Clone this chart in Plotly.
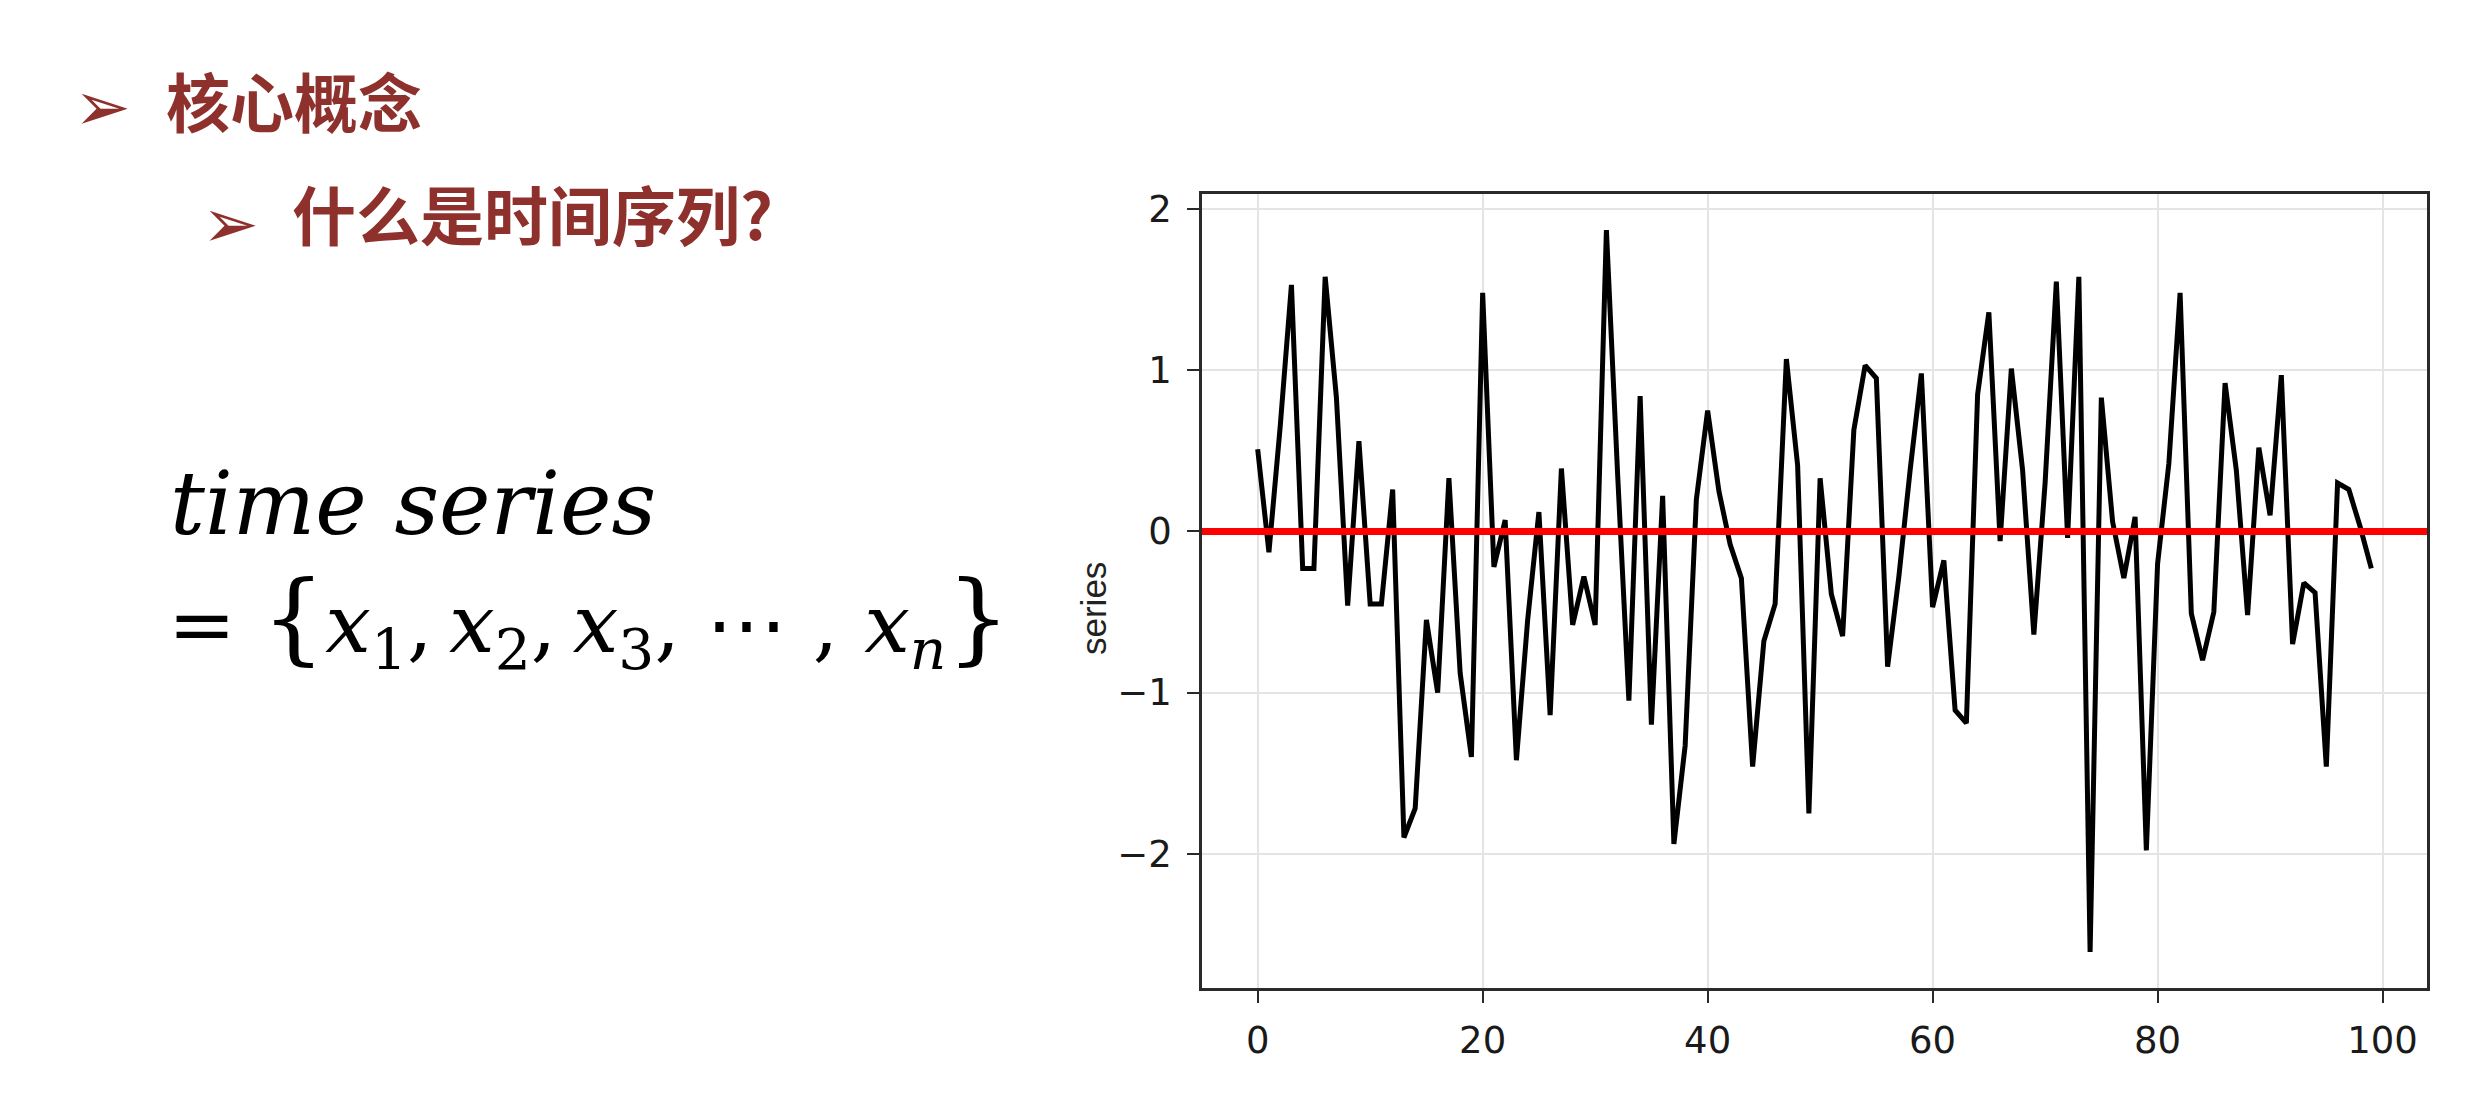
import plotly.graph_objects as go

# ---- data ----
time_index = list(range(100))
series_values = [
    0.51, -0.13, 0.65, 1.53, -0.23, -0.23, 1.58, 0.83, -0.46, 0.56,
    -0.45, -0.45, 0.26, -1.90, -1.72, -0.55, -1.00, 0.33, -0.88, -1.40,
    1.48, -0.22, 0.07, -1.42, -0.55, 0.12, -1.14, 0.39, -0.58, -0.28,
    -0.58, 1.87, 0.35, -1.05, 0.84, -1.20, 0.22, -1.94, -1.33, 0.20,
    0.75, 0.25, -0.08, -0.29, -1.46, -0.68, -0.45, 1.07, 0.41, -1.75,
    0.33, -0.39, -0.65, 0.63, 1.03, 0.95, -0.84, -0.28, 0.38, 0.98,
    -0.47, -0.18, -1.11, -1.19, 0.85, 1.36, -0.06, 1.01, 0.38, -0.64,
    0.30, 1.55, -0.04, 1.58, -2.61, 0.83, 0.06, -0.29, 0.09, -1.98,
    -0.20, 0.42, 1.48, -0.51, -0.80, -0.50, 0.92, 0.38, -0.52, 0.52,
    0.10, 0.97, -0.70, -0.32, -0.38, -1.46, 0.30, 0.26, 0.03, -0.23,
]
mean_level = 0.0
x_ticks = [0, 20, 40, 60, 80, 100]
y_ticks = [-2, -1, 0, 1, 2]
y_tick_labels = ["\u22122", "\u22121", "0", "1", "2"]
y_title = "series"
heading_1 = "核心概念"
heading_2 = "什么是时间序列?"
formula_line_1 = "time series"
brace_l = '<span style="font-size:100px">{</span>'
brace_r = '<span style="font-size:100px">}</span>'
formula_line_2 = ("= " + brace_l +
                  "<i>x</i><sub>1</sub>,\u2009<i>x</i><sub>2</sub>,\u2009<i>x</i><sub>3</sub>, "
                  "\u22ef , <i>x</i><sub><i>n</i></sub>" + brace_r)

# ---- layout geometry (pixels) ----
W, H = 2479, 1096
PL, PR, PT, PB = 1194, 2419, 186, 980
def px(x):
    return (x - PL) / (PR - PL)
def py(y):
    return (PB - y) / (PB - PT)

# matplotlib-like 5% margins
xmin, xmax = min(time_index), max(time_index)
ymin, ymax = min(series_values), max(series_values)
xpad = 0.05 * (xmax - xmin)
ypad = 0.05 * (ymax - ymin)

dark_red = "#8E302B"

fig = go.Figure()
fig.add_trace(go.Scatter(
    x=time_index, y=series_values, mode="lines",
    line=dict(color="black", width=5), showlegend=False, hoverinfo="skip"))
fig.add_trace(go.Scatter(
    x=[xmin - xpad * 1.2, xmax + xpad * 1.2], y=[mean_level, mean_level], mode="lines",
    line=dict(color="#FF0000", width=7), showlegend=False, hoverinfo="skip",
    cliponaxis=False))

tick_font = dict(family="DejaVu Sans", size=37, color="#1a1a1a")
fig.update_xaxes(
    range=[xmin - xpad, xmax + xpad], tickvals=x_ticks,
    showgrid=True, gridcolor="#e4e4e4", gridwidth=1.5,
    zeroline=False, showline=True, linecolor="#2a2a2a", linewidth=2.5, mirror=True,
    ticks="outside", ticklen=12, tickwidth=2, tickcolor="#2a2a2a",
    tickfont=tick_font, ticklabelstandoff=6)
fig.update_yaxes(
    range=[ymin - ypad, ymax + ypad], tickvals=y_ticks, ticktext=y_tick_labels,
    showgrid=True, gridcolor="#e4e4e4", gridwidth=1.5,
    zeroline=False, showline=True, linecolor="#2a2a2a", linewidth=2.5, mirror=True,
    ticks="outside", ticklen=12, tickwidth=2, tickcolor="#2a2a2a",
    tickfont=tick_font, ticklabelstandoff=8)

def note(x, y, text, font, **kw):
    d = dict(x=px(x), y=py(y), xref="paper", yref="paper", text=text,
             showarrow=False, xanchor="left", yanchor="middle", font=font)
    d.update(kw)
    return d

annotations = [
    note(1085, 601, y_title, dict(family="Liberation Sans", size=35, color="#222"),
         textangle=-90, xanchor="center"),
    note(64, 98, "\u27a2", dict(family="DejaVu Sans", size=68, color=dark_red)),
    note(192, 215, "\u27a2", dict(family="DejaVu Sans", size=68, color=dark_red)),
    note(156, 91, heading_1, dict(family="Noto Sans CJK SC", size=64, color=dark_red,
                                 weight="bold")),
    note(282, 204, heading_2, dict(family="Noto Sans CJK SC", size=64, color=dark_red,
                                  weight="bold")),
    note(160, 496, "<i>" + formula_line_1 + "</i>",
         dict(family="DejaVu Serif", size=87, color="black")),
    note(158, 612, formula_line_2, dict(family="DejaVu Serif", size=81, color="black")),
]

fig.update_layout(
    width=W, height=H,
    margin=dict(l=PL, r=W - PR, t=PT, b=H - PB, pad=0),
    paper_bgcolor="white", plot_bgcolor="white",
    annotations=annotations,
)

fig.write_html("out.html")
